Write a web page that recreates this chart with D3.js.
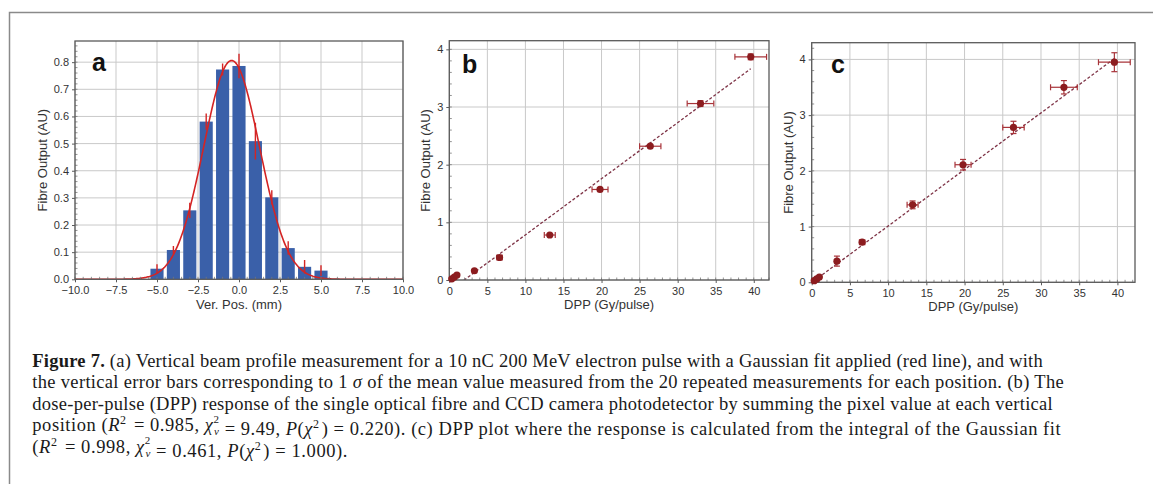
<!DOCTYPE html>
<html>
<head>
<meta charset="utf-8">
<script src="https://cdn.jsdelivr.net/npm/d3@7"></script>
<style>
  html, body { margin: 0; padding: 0; background: #fff; }
  svg { display: block; }
  .tick text { font-family: "Liberation Sans", Arial, sans-serif; }
</style>
</head>
<body>
<svg id="fig" width="1153" height="484"></svg>
<script>
// ---- Panel (a): vertical beam profile ----
const verPos = [-5, -4, -3, -2, -1, 0, 1, 2, 3, 4, 5];
const profileOut = [0.039, 0.108, 0.254, 0.581, 0.773, 0.786, 0.509, 0.302, 0.115, 0.046, 0.032];
const profileErr = [0.016, 0.015, 0.028, 0.03, 0.022, 0.045, 0.068, 0.026, 0.025, 0.025, 0.02];
const gaussAmp = 0.806, gaussMean = -0.45, gaussSigma = 1.7;
const xTicksA = [-10, -7.5, -5, -2.5, 0, 2.5, 5, 7.5, 10];
const yTicksA = [0, 0.1, 0.2, 0.3, 0.4, 0.5, 0.6, 0.7, 0.8];

// ---- Panels (b) and (c): dose-per-pulse response ----
const dpp = [0.33, 0.66, 1.0, 3.3, 6.6, 13.2, 19.8, 26.4, 33.0, 39.6];
const dppErr = [0.02, 0.04, 0.05, 0.17, 0.35, 0.72, 1.05, 1.4, 1.75, 2.08];
const sumOut = [0.02, 0.05, 0.087, 0.16, 0.39, 0.78, 1.57, 2.32, 3.06, 3.87];
const sumErr = [0.005, 0.005, 0.01, 0.01, 0.02, 0.02, 0.02, 0.03, 0.05, 0.05];
const intOut = [0.03, 0.06, 0.095, 0.38, 0.72, 1.39, 2.11, 2.78, 3.50, 3.95];
const intErr = [0.01, 0.01, 0.02, 0.09, 0.03, 0.07, 0.095, 0.11, 0.12, 0.17];
const fitB = { slope: 0.0973, intercept: -0.19 };
const fitC = { slope: 0.1015, intercept: -0.005 };
const xTicksBC = [0, 5, 10, 15, 20, 25, 30, 35, 40];
const yTicksBC = [0, 1, 2, 3, 4];

const svg = d3.select("#fig");
const SANS = '"Liberation Sans", Arial, sans-serif';
const GRID = "#c9c9c9", SPINE = "#5a5a5a", TXT = "#333";

// outer frame (left and top rule)
svg.append("path").attr("d", "M9.5,484 V12.5 H1153")
  .attr("fill", "none").attr("stroke", "#8a8a8a").attr("stroke-width", 1.5);

function panel(opt) {
  const x = d3.scaleLinear().domain(opt.xDomain).range([opt.left, opt.right]);
  const y = d3.scaleLinear().domain(opt.yDomain).range([opt.bottom, opt.top]);
  const g = svg.append("g");
  const clipId = "clip-" + opt.label;
  svg.append("clipPath").attr("id", clipId).append("rect")
    .attr("x", opt.left).attr("y", opt.top)
    .attr("width", opt.right - opt.left).attr("height", opt.bottom - opt.top);

  // grid
  g.append("g").selectAll("line").data(opt.xTicks).join("line")
    .attr("x1", d => x(d)).attr("x2", d => x(d))
    .attr("y1", opt.top).attr("y2", opt.bottom)
    .attr("stroke", GRID).attr("stroke-width", 1);
  g.append("g").selectAll("line").data(opt.yTicks).join("line")
    .attr("x1", opt.left).attr("x2", opt.right)
    .attr("y1", d => y(d)).attr("y2", d => y(d))
    .attr("stroke", GRID).attr("stroke-width", 1);

  const plot = g.append("g").attr("clip-path", `url(#${clipId})`);

  // minor ticks (inside)
  const minorX = d3.range(opt.xDomain[0], opt.xDomain[1] + 1e-9, opt.xMinor);
  const minorY = d3.range(opt.yDomain[0], opt.yDomain[1] + 1e-9, opt.yMinor);
  g.append("g").selectAll("line").data(minorX).join("line")
    .attr("x1", d => x(d)).attr("x2", d => x(d))
    .attr("y1", opt.bottom).attr("y2", opt.bottom - 2.5)
    .attr("stroke", "#777").attr("stroke-width", 0.8);
  g.append("g").selectAll("line").data(minorY).join("line")
    .attr("x1", opt.left).attr("x2", opt.left + 2.5)
    .attr("y1", d => y(d)).attr("y2", d => y(d))
    .attr("stroke", "#777").attr("stroke-width", 0.8);

  // axes
  const xAxis = d3.axisBottom(x).tickValues(opt.xTicks).tickSize(3).tickPadding(4)
    .tickFormat(opt.xFormat);
  const yAxis = d3.axisLeft(y).tickValues(opt.yTicks).tickSize(3).tickPadding(3)
    .tickFormat(opt.yFormat);
  const ax = g.append("g").attr("transform", `translate(0,${opt.bottom})`).call(xAxis);
  const ay = g.append("g").attr("transform", `translate(${opt.left},0)`).call(yAxis);
  [ax, ay].forEach(a => {
    a.select(".domain").remove();
    a.selectAll(".tick line").attr("stroke", SPINE).attr("stroke-width", 1);
    a.selectAll(".tick text").attr("fill", TXT).style("font-size", "11px")
      .style("font-family", SANS);
  });

  // spines box
  g.append("rect").attr("x", opt.left).attr("y", opt.top)
    .attr("width", opt.right - opt.left).attr("height", opt.bottom - opt.top)
    .attr("fill", "none").attr("stroke", SPINE).attr("stroke-width", 1.3);

  // titles
  g.append("text").attr("x", (opt.left + opt.right) / 2).attr("y", opt.xTitleY)
    .attr("text-anchor", "middle").attr("fill", TXT)
    .style("font-family", SANS).style("font-size", "13px").text(opt.xTitle);
  g.append("text")
    .attr("transform", `translate(${opt.yTitleX},${(opt.top + opt.bottom) / 2}) rotate(-90)`)
    .attr("text-anchor", "middle").attr("fill", TXT)
    .style("font-family", SANS).style("font-size", "13px").text("Fibre Output (AU)");

  // panel letter
  g.append("text").attr("x", opt.letterX).attr("y", opt.letterY)
    .attr("fill", "#111").style("font-family", SANS).style("font-weight", "bold")
    .style("font-size", "25px").text(opt.label);

  return { x, y, plot, g };
}

const fmt1 = d => d3.format(".1f")(d).replace("-", "\u2212");

// ---------- panel a ----------
const A = panel({
  label: "a", left: 75, right: 403, top: 41, bottom: 279.3,
  xDomain: [-10, 10], yDomain: [0, 0.878], xTicks: xTicksA, yTicks: yTicksA,
  xMinor: 0.5, yMinor: 0.02, xFormat: fmt1, yFormat: d3.format(".1f"),
  xTitle: "Ver. Pos. (mm)", xTitleY: 309, yTitleX: 47, letterX: 92, letterY: 71
});
const barW = 0.8;
A.plot.selectAll("rect.bar").data(verPos).join("rect").attr("class", "bar")
  .attr("x", (d) => A.x(d - barW / 2))
  .attr("width", (d) => A.x(d + barW / 2) - A.x(d - barW / 2))
  .attr("y", (d, i) => A.y(profileOut[i]))
  .attr("height", (d, i) => A.y(0) - A.y(profileOut[i]))
  .attr("fill", "#3a60a9");
const gx = d3.range(-10, 10.001, 0.05);
A.plot.append("path")
  .datum(gx)
  .attr("d", d3.line()
    .x(d => A.x(d))
    .y(d => A.y(gaussAmp * Math.exp(-((d - gaussMean) ** 2) / (2 * gaussSigma ** 2)))))
  .attr("fill", "none").attr("stroke", "#d42424").attr("stroke-width", 1.6);
A.plot.selectAll("line.err").data(verPos).join("line").attr("class", "err")
  .attr("x1", d => A.x(d)).attr("x2", d => A.x(d))
  .attr("y1", (d, i) => A.y(profileOut[i] - profileErr[i]))
  .attr("y2", (d, i) => A.y(profileOut[i] + profileErr[i]))
  .attr("stroke", "#d42424").attr("stroke-width", 1.4);

// ---------- panels b, c ----------
function dppPanel(P, ys, yerr, fit) {
  const PT = "#8c1c1f", EB = "#a8343a";
  // fitted line
  const fx = [dpp[0], dpp[dpp.length - 1]];
  P.plot.append("line")
    .attr("x1", P.x(fx[0])).attr("y1", P.y(fit.slope * fx[0] + fit.intercept))
    .attr("x2", P.x(fx[1])).attr("y2", P.y(fit.slope * fx[1] + fit.intercept))
    .attr("stroke", "#7e3346").attr("stroke-width", 1.3).attr("stroke-dasharray", "3,2");
  const cap = 3;
  const eg = P.g.append("g").attr("stroke", EB).attr("stroke-width", 1.2);
  dpp.forEach((d, i) => {
    const cx = P.x(d), cy = P.y(ys[i]);
    const x0 = P.x(d - dppErr[i]), x1 = P.x(d + dppErr[i]);
    const y0 = P.y(ys[i] - yerr[i]), y1 = P.y(ys[i] + yerr[i]);
    eg.append("line").attr("x1", x0).attr("x2", x1).attr("y1", cy).attr("y2", cy);
    if (x1 - x0 > 4) {
      eg.append("line").attr("x1", x0).attr("x2", x0).attr("y1", cy - cap).attr("y2", cy + cap);
      eg.append("line").attr("x1", x1).attr("x2", x1).attr("y1", cy - cap).attr("y2", cy + cap);
    }
    eg.append("line").attr("x1", cx).attr("x2", cx).attr("y1", y0).attr("y2", y1);
    if (y0 - y1 > 4) {
      eg.append("line").attr("x1", cx - cap).attr("x2", cx + cap).attr("y1", y0).attr("y2", y0);
      eg.append("line").attr("x1", cx - cap).attr("x2", cx + cap).attr("y1", y1).attr("y2", y1);
    }
  });
  P.g.append("g").selectAll("circle").data(dpp).join("circle")
    .attr("cx", d => P.x(d)).attr("cy", (d, i) => P.y(ys[i])).attr("r", 3.6)
    .attr("fill", PT);
}

const B = panel({
  label: "b", left: 449.3, right: 769, top: 40.7, bottom: 280,
  xDomain: [0, 42], yDomain: [0, 4.15], xTicks: xTicksBC, yTicks: yTicksBC,
  xMinor: 1, yMinor: 0.2, xFormat: d3.format("d"), yFormat: d3.format("d"),
  xTitle: "DPP (Gy/pulse)", xTitleY: 309, yTitleX: 430, letterX: 462, letterY: 73
});
dppPanel(B, sumOut, sumErr, fitB);

const C = panel({
  label: "c", left: 811.7, right: 1135, top: 42.7, bottom: 282.3,
  xDomain: [0, 42.3], yDomain: [0, 4.3], xTicks: xTicksBC, yTicks: yTicksBC,
  xMinor: 1, yMinor: 0.2, xFormat: d3.format("d"), yFormat: d3.format("d"),
  xTitle: "DPP (Gy/pulse)", xTitleY: 311, yTitleX: 793, letterX: 831, letterY: 73
});
dppPanel(C, intOut, intErr, fitC);

// ---------- caption ----------
const SERIF = '"Liberation Serif", "Times New Roman", serif';
const capLines = [
  { y: 366.5, end: 1043, parts: [["Figure 7.", "b"], [" (a) Vertical beam profile measurement for a 10 nC 200 MeV electron pulse with a Gaussian fit applied (red line), and with"]] },
  { y: 388, end: 1064, parts: [["the vertical error bars corresponding to 1 "], ["\u03c3", "i"], [" of the mean value measured from the 20 repeated measurements for each position. (b) The"]] },
  { y: 409.5, end: 1053, parts: [["dose-per-pulse (DPP) response of the single optical fibre and CCD camera photodetector by summing the pixel value at each vertical"]] },
  { y: 431, end: 1062, parts: [["position ("], ["R", "i"], ["2", "sup"], [" = 0.985, "], ["\u03c7", "i"], ["2", "supsub", "\u03bd"], [" = 9.49, "], ["P", "i"], ["(", ""], ["\u03c7", "i"], ["2", "sup"], [") = 0.220). (c) DPP plot where the response is calculated from the integral of the Gaussian fit"]] },
  { y: 452.5, end: 348, parts: [["("], ["R", "i"], ["2", "sup"], [" = 0.998, "], ["\u03c7", "i"], ["2", "supsub", "\u03bd"], [" = 0.461, "], ["P", "i"], ["("], ["\u03c7", "i"], ["2", "sup"], [") = 1.000)."]] }
];
const capStart = 32.3;
capLines.forEach(L => {
  const t = svg.append("text").attr("x", capStart).attr("y", L.y)
    .style("font-family", SERIF).style("font-size", "18.5px").attr("fill", "#1a1a1a");
  L.parts.forEach(p => {
    const [str, kind, sub] = p;
    if (kind === "sup") {
      t.append("tspan").attr("dy", -7).style("font-size", "12px").text(str);
      t.append("tspan").attr("dy", 7).text("\u200a");
    } else if (kind === "supsub") {
      // superscript stacked above the subscript
      t.append("tspan").attr("dy", -8.5).style("font-size", "11px").text(str);
      t.append("tspan").attr("dx", -5.5).attr("dy", 12.5).style("font-size", "11px")
        .style("font-style", "italic").text(sub);
      t.append("tspan").attr("dy", -4).text("");
    } else {
      const s = t.append("tspan").text(str);
      if (kind === "b") s.style("font-weight", "bold");
      if (kind === "i") s.style("font-style", "italic");
    }
  });
  // spread the glyphs so each line ends where it is set
  const w = t.node().getBBox().width;
  const n = t.text().length;
  t.style("letter-spacing", ((L.end - capStart - w) / n) + "px");
});
</script>
</body>
</html>
